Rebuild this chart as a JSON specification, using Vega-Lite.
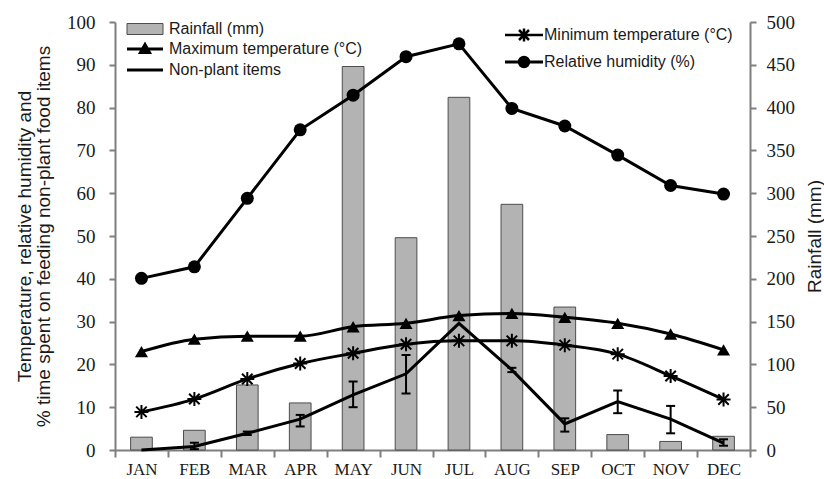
{
  "$schema": "https://vega.github.io/schema/vega-lite/v6.json",
  "width": 635,
  "height": 428,
  "autosize": "none",
  "padding": {"left": 115, "top": 22, "right": 74, "bottom": 29},
  "background": "white",
  "config": {
    "view": {"stroke": null},
    "axis": {
      "domainColor": "#7f7f7f", "domainWidth": 2,
      "tickColor": "#7f7f7f", "tickWidth": 2, "tickSize": 6,
      "labelFont": "Liberation Serif", "labelFontSize": 19, "labelColor": "#1a1a1a",
      "titleFont": "Liberation Sans", "titleFontSize": 19, "titleFontWeight": "normal", "titleColor": "#1a1a1a",
      "grid": false, "labelPadding": 5
    },
    "legend": {"labelFont": "Liberation Sans", "labelFontSize": 16, "labelColor": "#1a1a1a", "symbolSize": 100, "padding": 0, "labelLimit": 400, "orient": "none", "title": null, "symbolStrokeWidth": 3, "symbolStrokeColor": "black", "symbolFillColor": "black"}
  },
  "data": {"values": [
    {"month": "JAN", "rain": 15, "tmax": 23.0, "tmin": 8.9, "rh": 40.1, "np": 0.0, "np_lo": null, "np_hi": null},
    {"month": "FEB", "rain": 23, "tmax": 25.9, "tmin": 11.9, "rh": 42.8, "np": 0.8, "np_lo": 0.2, "np_hi": 1.7},
    {"month": "MAR", "rain": 76, "tmax": 26.6, "tmin": 16.6, "rh": 58.8, "np": 3.9, "np_lo": 3.5, "np_hi": 4.3},
    {"month": "APR", "rain": 55, "tmax": 26.6, "tmin": 20.2, "rh": 74.8, "np": 7.2, "np_lo": 5.5, "np_hi": 8.2},
    {"month": "MAY", "rain": 448, "tmax": 28.8, "tmin": 22.6, "rh": 82.9, "np": 12.9, "np_lo": 10.0, "np_hi": 16.0},
    {"month": "JUN", "rain": 248, "tmax": 29.6, "tmin": 24.7, "rh": 91.9, "np": 17.8, "np_lo": 13.2, "np_hi": 22.2},
    {"month": "JUL", "rain": 412, "tmax": 31.4, "tmin": 25.5, "rh": 94.9, "np": 29.6, "np_lo": null, "np_hi": null},
    {"month": "AUG", "rain": 287, "tmax": 31.9, "tmin": 25.5, "rh": 79.8, "np": 18.7, "np_lo": 18.2, "np_hi": 19.2},
    {"month": "SEP", "rain": 167, "tmax": 31.0, "tmin": 24.5, "rh": 75.7, "np": 6.1, "np_lo": 4.3, "np_hi": 7.4},
    {"month": "OCT", "rain": 18, "tmax": 29.6, "tmin": 22.4, "rh": 68.9, "np": 11.3, "np_lo": 8.6, "np_hi": 13.9},
    {"month": "NOV", "rain": 10, "tmax": 27.1, "tmin": 17.3, "rh": 61.8, "np": 7.2, "np_lo": 3.9, "np_hi": 10.3},
    {"month": "DEC", "rain": 16, "tmax": 23.4, "tmin": 11.8, "rh": 59.8, "np": 1.6, "np_lo": 1.0, "np_hi": 2.5}
  ]},
  "encoding": {
    "x": {
      "field": "month", "type": "ordinal", "sort": null,
      "scale": {"paddingInner": 0, "paddingOuter": 0},
      "axis": {"title": null, "labelAngle": 0, "tickBand": "extent", "tickSize": 7, "labelFontSize": 17, "labelPadding": 4}
    }
  },
  "layer": [
    {
      "mark": {"type": "bar", "width": {"band": 0.41}, "stroke": "#4d4d4d", "strokeWidth": 1},
      "encoding": {
        "y": {
          "field": "rain", "type": "quantitative",
          "scale": {"domain": [0, 500], "nice": false},
          "axis": {"orient": "right", "values": [0, 50, 100, 150, 200, 250, 300, 350, 400, 450, 500], "title": "Rainfall (mm)", "titleAngle": 270, "titlePadding": 30, "labelPadding": 10}
        },
        "color": {
          "datum": "Rainfall (mm)",
          "scale": {"range": ["#b3b3b3"]},
          "legend": {"legendX": 12, "legendY": -1, "symbolOffset": 10, "labelOffset": 16,
            "symbolType": "M-3.6,-1.1H3.6V1.1H-3.6Z", "symbolStrokeWidth": 1, "symbolStrokeColor": "#4d4d4d", "symbolFillColor": "#b3b3b3"}
        }
      }
    },
    {
      "layer": [
        {
          "mark": {"type": "line", "color": "black", "strokeWidth": 3},
          "encoding": {
            "y": {"field": "rh", "type": "quantitative", "scale": {"domain": [0, 100], "nice": false},
              "axis": {"values": [0, 10, 20, 30, 40, 50, 60, 70, 80, 90, 100], "title": ["Temperature, relative humidity and", "% time spent on feeding non-plant food items"], "titleLineHeight": 19, "titlePadding": 13, "labelPadding": 14}},
            "color": {
              "datum": "Relative humidity (%)",
              "scale": {"range": ["black"]},
              "legend": {"legendX": 390, "legendY": 32, "symbolOffset": 11, "labelOffset": 12,
                "symbolType": "M-3.8,0H3.8M-0.95,0A0.95,0.95,0,1,0,0.95,0A0.95,0.95,0,1,0,-0.95,0M-0.35,0A0.35,0.35,0,1,0,0.35,0A0.35,0.35,0,1,0,-0.35,0"}
            }
          }
        },
        {
          "mark": {"type": "point", "shape": "circle", "filled": true, "color": "black", "size": 169, "opacity": 1},
          "encoding": {"y": {"field": "rh", "type": "quantitative", "scale": {"domain": [0, 100], "nice": false}, "axis": {"title": ["Temperature, relative humidity and", "% time spent on feeding non-plant food items"]}}}
        },
        {
          "mark": {"type": "line", "color": "black", "strokeWidth": 3, "interpolate": "monotone"},
          "encoding": {
            "y": {"field": "tmax", "type": "quantitative", "scale": {"domain": [0, 100], "nice": false}, "axis": {"title": ["Temperature, relative humidity and", "% time spent on feeding non-plant food items"]}},
            "color": {
              "datum": "Maximum temperature (°C)",
              "scale": {"range": ["black"]},
              "legend": {"legendX": 12, "legendY": 19, "symbolOffset": 10, "labelOffset": 16,
                "symbolType": "M-3.6,0H3.6M-0.9,0.7L0,-0.9L0.9,0.7ZM-0.35,0.45L0,-0.2L0.35,0.45Z"}
            }
          }
        },
        {
          "mark": {"type": "point", "shape": "triangle-up", "filled": true, "color": "black", "size": 170, "opacity": 1},
          "encoding": {"y": {"field": "tmax", "type": "quantitative", "scale": {"domain": [0, 100], "nice": false}, "axis": {"title": ["Temperature, relative humidity and", "% time spent on feeding non-plant food items"]}}}
        },
        {
          "mark": {"type": "line", "color": "black", "strokeWidth": 3, "interpolate": "monotone"},
          "encoding": {
            "y": {"field": "tmin", "type": "quantitative", "scale": {"domain": [0, 100], "nice": false}, "axis": {"title": ["Temperature, relative humidity and", "% time spent on feeding non-plant food items"]}},
            "color": {
              "datum": "Minimum temperature (°C)",
              "scale": {"range": ["black"]},
              "legend": {"legendX": 390, "legendY": 5, "symbolOffset": 11, "labelOffset": 12,
                "symbolType": "M-3.8,0H3.8M0,-1.3V1.3M-1,-1L1,1M-1,1L1,-1", "symbolStrokeWidth": 2.5}
            }
          }
        },
        {
          "mark": {"type": "point", "shape": "M-1,0H1M0,-1V1M-0.75,-0.75L0.75,0.75M-0.75,0.75L0.75,-0.75", "filled": false, "color": "black", "strokeWidth": 2, "size": 196, "opacity": 1},
          "encoding": {"y": {"field": "tmin", "type": "quantitative", "scale": {"domain": [0, 100], "nice": false}, "axis": {"title": ["Temperature, relative humidity and", "% time spent on feeding non-plant food items"]}}}
        },
        {
          "mark": {"type": "line", "color": "black", "strokeWidth": 3},
          "encoding": {
            "y": {"field": "np", "type": "quantitative", "scale": {"domain": [0, 100], "nice": false}, "axis": {"title": ["Temperature, relative humidity and", "% time spent on feeding non-plant food items"]}},
            "color": {
              "datum": "Non-plant items",
              "scale": {"range": ["black"]},
              "legend": {"legendX": 12, "legendY": 40, "symbolOffset": 10, "labelOffset": 16,
                "symbolType": "M-3.6,0H3.6"}
            }
          }
        },
        {
          "mark": {"type": "rule", "color": "black", "strokeWidth": 2},
          "encoding": {
            "y": {"field": "np_lo", "type": "quantitative", "scale": {"domain": [0, 100], "nice": false}, "axis": {"title": ["Temperature, relative humidity and", "% time spent on feeding non-plant food items"]}},
            "y2": {"field": "np_hi"}
          }
        },
        {
          "mark": {"type": "tick", "color": "black", "size": 9, "thickness": 2, "opacity": 1},
          "encoding": {"y": {"field": "np_lo", "type": "quantitative", "scale": {"domain": [0, 100], "nice": false}, "axis": {"title": ["Temperature, relative humidity and", "% time spent on feeding non-plant food items"]}}}
        },
        {
          "mark": {"type": "tick", "color": "black", "size": 9, "thickness": 2, "opacity": 1},
          "encoding": {"y": {"field": "np_hi", "type": "quantitative", "scale": {"domain": [0, 100], "nice": false}, "axis": {"title": ["Temperature, relative humidity and", "% time spent on feeding non-plant food items"]}}}
        }
      ],
      "resolve": {"scale": {"color": "independent"}}
    }
  ],
  "resolve": {"scale": {"y": "independent", "color": "independent"}}
}
